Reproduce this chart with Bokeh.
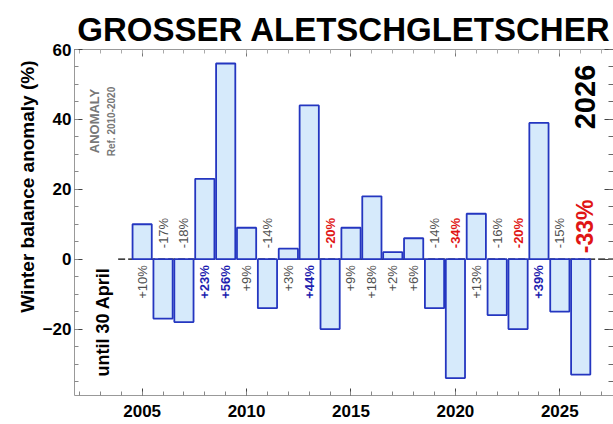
import math
from bokeh.plotting import figure
from bokeh.models import (Range1d, LinearAxis, SingleIntervalTicker, Label, Title,
                          CustomJSTickFormatter)
from bokeh.core.properties import value
from bokeh.embed import file_html
from bokeh.resources import INLINE

# ---- data ----
years = list(range(2005, 2027))
anomaly = [10, -17, -18, 23, 56, 9, -14, 3, 44, -20, 9, 18, 2, 6, -14, -34, 13, -16, -20, 39, -15, -33]
labels = [("%+d%%" % v) for v in anomaly]
y_ticks_interval = 20
x_ticks_interval = 5

FONT = "Liberation Sans"
Y0, Y1 = -39, 60
X0, X1 = 2001.76, 2027.57
FRAME_H = 346.0
PX = FRAME_H / (Y1 - Y0)  # pixels per unit

p = figure(width=613, height=424, output_backend="svg", toolbar_location=None,
           x_range=Range1d(X0, X1), y_range=Range1d(Y0, Y1),
           min_border_left=74, min_border_right=0, min_border_top=49, min_border_bottom=29)
p.outline_line_color = None
p.xgrid.visible = False
p.ygrid.visible = False
p.background_fill_color = "white"
p.border_fill_color = "white"

AX = "#999999"
# left axis
ya = p.yaxis[0]
ya.ticker = SingleIntervalTicker(interval=y_ticks_interval, num_minor_ticks=4)
ya.axis_line_color = AX
ya.major_tick_in = 8
ya.major_tick_out = 0
ya.minor_tick_in = 4
ya.minor_tick_out = 0
ya.major_tick_line_color = "#444444"
ya.minor_tick_line_color = "#888888"
ya.major_label_text_font = FONT
ya.major_label_text_font_style = "bold"
ya.major_label_text_font_size = "17px"
ya.major_label_text_color = "black"
ya.major_label_standoff = 3

# bottom axis
xa = p.xaxis[0]
xa.ticker = SingleIntervalTicker(interval=x_ticks_interval, num_minor_ticks=5)
xa.axis_line_color = AX
xa.major_tick_in = 7
xa.major_tick_out = 0
xa.minor_tick_in = 4
xa.minor_tick_out = 0
xa.major_tick_line_color = "#444444"
xa.minor_tick_line_color = "#888888"
xa.major_label_text_font = FONT
xa.major_label_text_font_style = "bold"
xa.major_label_text_font_size = "17px"
xa.major_label_text_color = "black"
xa.major_label_standoff = 9

# top axis (ticks only)
top = LinearAxis(ticker=SingleIntervalTicker(interval=x_ticks_interval, num_minor_ticks=5),
                 formatter=CustomJSTickFormatter(code="return ''"),
                 axis_line_color=AX, major_tick_in=7, major_tick_out=0, minor_tick_in=4,
                 minor_tick_out=0, major_tick_line_color="#777777", minor_tick_line_color="#aaaaaa",
                 major_label_standoff=0)
p.add_layout(top, "above")
# right axis (ticks only)
right = LinearAxis(ticker=SingleIntervalTicker(interval=y_ticks_interval, num_minor_ticks=4),
                   formatter=CustomJSTickFormatter(code="return ''"),
                   axis_line_color=None, major_tick_in=9, major_tick_out=0, minor_tick_in=5,
                   minor_tick_out=0, major_tick_line_color="#444444", minor_tick_line_color="#666666",
                   major_label_standoff=0)
p.add_layout(right, "right")

# title
p.title.text = "GROSSER ALETSCHGLETSCHER"
p.title.text_font = FONT
p.title.text_font_size = "33px"
p.title.text_font_style = "bold"
p.title.text_color = "black"
p.title.align = "center"
p.title.offset = -4
p.title.standoff = 3

# y-axis title as a left-side title
p.add_layout(Title(text="Winter balance anomaly (%)", text_font=FONT, text_font_size="19px",
                   text_font_style="bold", text_color="black", align="right", offset=11,
                   standoff=4), "left")

# zero line (dashed)
p.line(x=[years[0] - 1.15, X1], y=[0, 0], line_color="black", line_width=1.3, line_dash="7 3")

# bars
p.vbar(x=years, top=anomaly, bottom=0, width=0.92, fill_color="#d6eafb",
       line_color="#2436c0", line_width=1.8)

# bar labels
def sel(cond):
    idx = [i for i in range(len(years) - 1) if cond(anomaly[i])]
    xs = [years[i] for i in idx]
    ys = [(-6.0 / PX) if anomaly[i] > 0 else (11.0 / PX) for i in idx]
    ts = [labels[i] for i in idx]
    return xs, ys, ts

groups = [
    (lambda v: 0 < v < 20, "#505050", "normal", "right"),
    (lambda v: v >= 20, "#1f1fb0", "bold", "right"),
    (lambda v: -20 < v < 0, "#505050", "normal", "left"),
    (lambda v: v <= -20, "#e01515", "bold", "left"),
]
for cond, col, style, align in groups:
    xs, ys, ts = sel(cond)
    p.text(x=xs, y=ys, text=ts, angle=math.pi / 2, text_align=align, text_baseline="middle",
           text_font=value(FONT), text_font_size="13px", text_font_style=style, text_color=col)

# latest year label, larger
p.text(x=[years[-1] + 0.2], y=[6.0 / PX], text=[labels[-1]], angle=math.pi / 2,
       text_align="left", text_baseline="middle", text_font=value(FONT),
       text_font_size="23px", text_font_style="bold", text_color="#e01515")

# annotations inside the frame (screen units relative to frame: x from left, y from bottom)
def lab(text, x, y, size, color="black", style="bold", angle=0.0, align="center", baseline="middle"):
    p.add_layout(Label(x=x, y=y, x_units="screen", y_units="screen", text=text, angle=angle,
                       text_font=FONT, text_font_size=size, text_font_style=style,
                       text_color=color, text_align=align, text_baseline=baseline))

lab("until 30 April", 28, 73.5, "18px", angle=math.pi / 2)
lab("ANOMALY", 20, 274.5, "13px", color="#777777", angle=math.pi / 2)
lab("Ref. 2010-2020", 37, 274, "10px", color="#777777", angle=math.pi / 2)
lab(str(years[-1]), 510, 298.5, "29px", angle=math.pi / 2)

open("out.html", "w").write(file_html(p, INLINE))
